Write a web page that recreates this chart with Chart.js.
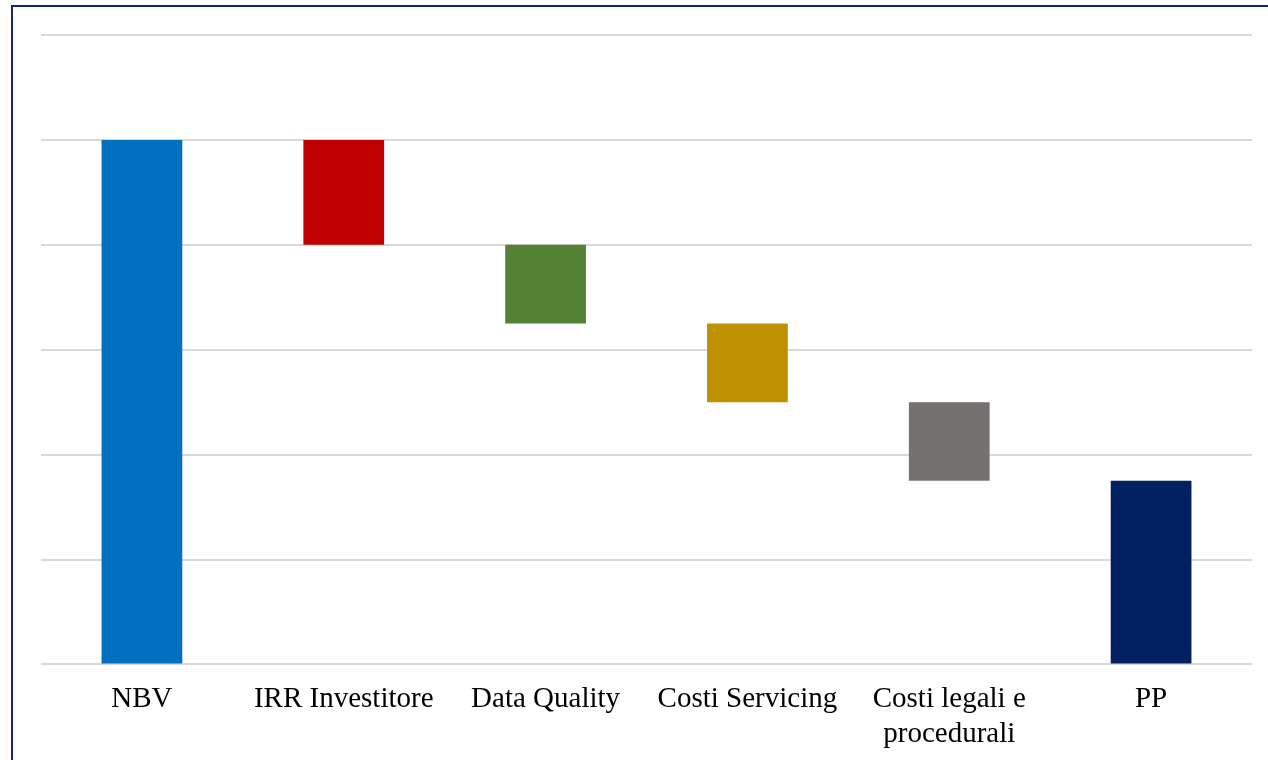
<!DOCTYPE html>
<html>
<head>
<meta charset="utf-8">
<script src="https://cdn.jsdelivr.net/npm/chart.js@4"></script>
<style>
  html, body { margin: 0; padding: 0; background: #fff; overflow: hidden; }
  #wrap { position: relative; width: 1268px; height: 760px; overflow: hidden; }
  #frame {
    position: absolute; left: 11px; top: 5px; width: 1300px; height: 800px;
    border-left: 2px solid #0f2a6b; border-top: 2px solid #0f2a6b; box-sizing: border-box;
  }
  canvas { position: absolute; left: 0; top: 0; }
</style>
</head>
<body>
<div id="wrap">
  <div id="frame"></div>
  <canvas id="waterfall" width="1268" height="762"></canvas>
</div>
<script>
// Waterfall steps: NBV down to PP
const categories = ['NBV', 'IRR Investitore', 'Data Quality', 'Costi Servicing', ['Costi legali e', 'procedurali'], 'PP'];
const barLows  = [0, 4, 3.25, 2.5, 1.75, 0];
const barHighs = [5, 5, 4, 3.25, 2.5, 1.75];
const barColors = ['#0070C0', '#C00000', '#548235', '#BF9000', '#767171', '#002060'];
const yTicks = [0, 1, 2, 3, 4, 5, 6];

const floating = barLows.map((lo, i) => [lo, barHighs[i]]);

new Chart(document.getElementById('waterfall'), {
  type: 'bar',
  data: {
    labels: categories,
    datasets: [{
      data: floating,
      backgroundColor: barColors,
      borderWidth: 0,
      categoryPercentage: 1,
      barPercentage: 0.4
    }]
  },
  options: {
    responsive: false,
    animation: false,
    layout: { padding: { left: 41, right: 16, top: 35, bottom: 0 } },
    plugins: { legend: { display: false }, tooltip: { enabled: false } },
    scales: {
      x: {
        grid: { display: false },
        border: { display: false },
        ticks: {
          color: '#000',
          padding: 10,
          maxRotation: 0,
          autoSkip: false,
          font: { family: '"Liberation Serif", "Times New Roman", serif', size: 29, lineHeight: 1.2 }
        }
      },
      y: {
        min: yTicks[0],
        max: yTicks[yTicks.length - 1],
        border: { display: false },
        grid: { color: '#d9d9d9', lineWidth: 2, drawTicks: false },
        ticks: { display: false, stepSize: 1 }
      }
    }
  }
});
</script>
</body>
</html>
